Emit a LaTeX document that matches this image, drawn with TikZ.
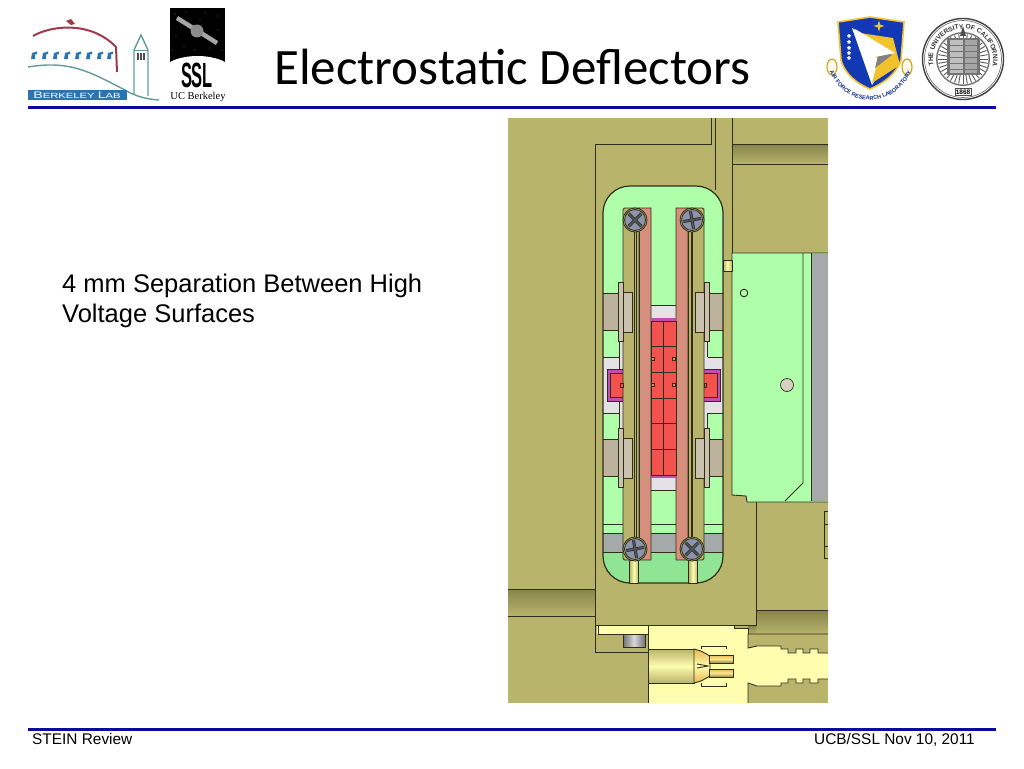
\documentclass[tikz,border=0pt]{standalone}
\usepackage{fontspec}
\setmainfont{Liberation Sans}
\newfontfamily\titlefont{Carlito}
\newfontfamily\seriffont{Liberation Serif}
\usepackage{tikz}
\usetikzlibrary{positioning,calc,decorations.text,shapes.geometric}
\definecolor{olivebody}{HTML}{B8B46C}
\definecolor{olivedark}{HTML}{86844A}
\definecolor{edgeline}{HTML}{2E2E1A}
\definecolor{pale}{HTML}{AFFFAA}
\definecolor{palelow}{HTML}{90E594}
\definecolor{tan}{HTML}{BDB29B}
\definecolor{salmon}{HTML}{D68F7C}
\definecolor{hotred}{HTML}{F4524F}
\definecolor{violet}{HTML}{C050B0}
\definecolor{silver}{HTML}{A6A9AA}
\definecolor{whitish}{HTML}{E4E2E6}
\definecolor{cream}{HTML}{FFFDAE}
\definecolor{gold}{HTML}{E8B84E}
\definecolor{screwgrey}{HTML}{8C93AC}
\definecolor{rulebar}{HTML}{0A0AA0}
\definecolor{labred}{HTML}{A03A4A}
\definecolor{labteal}{HTML}{5F9C96}
\definecolor{labblue}{HTML}{2F73AE}
\definecolor{afblue}{HTML}{1238B4}
\definecolor{afgold}{HTML}{F2C22C}
\begin{document}
\begin{tikzpicture}[x=1pt,y=-1pt,
    part/.style={draw=edgeline,line width=0.9pt},
    band/.style={top color=olivedark,bottom color=olivebody},
    rulebar line/.style={draw=rulebar,line width=3pt},
    footer/.style={font=\fontsize{15.4}{17}\selectfont,inner sep=0pt}]
    \useasboundingbox (0,0) rectangle (1024,768);
    \node[anchor=base west,inner sep=0pt,font=\titlefont\fontsize{51}{55}\selectfont] (title) at (274,84) {Electrostatic Deflectors};
    \coordinate (ruleTopA) at (28,107.5);
    \coordinate (ruleTopB) at (996,107.5);
    \coordinate (ruleLowA) at (28,729.5);
    \coordinate (ruleLowB) at (996,729.5);
    \draw[rulebar line] (ruleTopA) -- (ruleTopB);
    \draw[rulebar line] (ruleLowA) -- (ruleLowB);
    \node[anchor=base west,footer] (review) at (32,744) {STEIN Review};
    \node[anchor=base east,footer] (date) at (975,744) {UCB/SSL Nov 10, 2011};
    \node[anchor=north west,inner sep=0pt,align=left,font=\fontsize{25.5}{30}\selectfont] (note) at (62,274) {4 mm Separation Between High\\Voltage Surfaces};
    % berkeley lab logo
    \draw[labred,line width=2pt] (33,36) .. controls (50,26) and (90,20) .. (116,47) -- (117,72);
    \fill[labred] (66,21) -- (71,19) -- (75,24) -- (71,25) -- cycle;
    \foreach \wx in {32,43,54,65,76,87,98,108}
        \fill[labblue] (\wx,53) -- (\wx+5,51.5) -- (\wx+5,54) -- (\wx+3,54.5) -- (\wx+3,59) -- (\wx-1,59) -- cycle;
    \draw[labteal,line width=1.4pt] (28,67) .. controls (70,60) and (90,72) .. (125,90) .. controls (135,96) and (145,99) .. (159,100);
    \draw[labteal,line width=1.4pt] (134,94) -- (134,50) -- (141,35) -- (148,50) -- (148,96);
    \draw[labteal,line width=0.8pt] (134,50) -- (148,50);
    \foreach \wx in {138,141,144}
        \draw[black!70,line width=1.2pt] (\wx,53) -- (\wx,60);
    \fill[labblue] (28,90) rectangle (127,100);
    \node[inner sep=0pt,xscale=1.5,text=white,font=\fontsize{9.5}{10}\selectfont] (labname) at (77,95) {B\fontsize{7.5}{8}\selectfont ERKELEY \fontsize{9.5}{10}\selectfont L\fontsize{7.5}{8}\selectfont AB};
    % ssl logo
    \fill[black] (170,8) rectangle (225,62) ;
    \fill[white] (170,62) .. controls (185,54) and (210,54) .. (225,62) -- cycle;
    \foreach \sx/\sy in {175/14,186/12,205/13,218/16,176/36,184/46,210/48,218/30,195/50,172/50,222/50,200/20}
        \fill[white] (\sx,\sy) circle[radius=0.4pt];
    \draw[black!35,line width=4.5pt] (177,18) -- (217,43);
    \fill[black!45] (197,31) circle[radius=6.5pt];
    \node[inner sep=0pt,xscale=0.47,font=\bfseries\fontsize{35}{36}\selectfont] (sslname) at (197,75.5) {SSL};
    \node[inner sep=0pt,font=\seriffont\fontsize{10.5}{11}\selectfont] (ucname) at (198,96.5) {UC Berkeley};
    % air force shield
    \draw[afgold!85!black,line width=1.2pt,fill=white!90!afgold] (832,67) ellipse[x radius=5pt,y radius=8pt];
    \draw[afgold!85!black,line width=1.2pt,fill=white!90!afgold] (907,67) ellipse[x radius=5pt,y radius=8pt];
    \draw[afgold,line width=1.6pt,fill=afblue] (838,22) -- (870,17) -- (904,22) -- (901,60) .. controls (896,75) and (882,84) .. (870,89) .. controls (858,84) and (845,75) .. (841,60) -- cycle;
    \fill[white] (852,28) -- (892,53) -- (872,85) -- cycle;
    \fill[afgold] (860,33) -- (893,38) -- (900,65) -- (872,83) -- (878,60) -- cycle;
    \fill[black!50] (863,40) -- (892,55) -- (875,68) -- (878,56) -- cycle;
    \fill[white] (855,29) -- (895,53) -- (875,57) -- cycle;
    \node[star,star points=4,star point ratio=3,fill=afgold,inner sep=1.3pt] (afstar) at (879,26) {};
    \foreach \sy in {36,42,48,53,58}
        \node[star,fill=white,inner sep=1pt] (afs\sy) at (849,\sy) {};
    \path[decorate,decoration={text along path,text align=center,text color=afblue!80!black,
        text={|\bfseries\fontsize{5.6}{7}\selectfont|AIR FORCE RESEARCH LABORATORY}}]
        (829,70) .. controls (845,110) and (895,110) .. (912,70);
    % university seal
    \draw[black!75,line width=1.4pt,fill=white] (963,59) circle[radius=40.5pt];
    \draw[black!60,line width=0.6pt] (963,59) circle[radius=38.5pt];
    \fill[black!55] (963,59) circle[radius=27pt];
    \fill[white] (963,59) circle[radius=25.5pt];
    \foreach \ang in {0,10,...,350}
        \draw[black!65,line width=0.9pt] (963,59) ++(\ang:15pt) -- ++(\ang:10pt);
    \fill[black!55] (947,38) rectangle (980,75);
    \fill[black!25] (950,40) rectangle (963,73);
    \fill[black!35] (965,40) rectangle (977,73);
    \fill[black!70] (963,26) -- (966,36) -- (960,36) -- cycle;
    \foreach \ly in {45,51,...,73}
        \draw[black!55,line width=0.4pt] (950,\ly) -- (977,\ly);
    \node[inner sep=1pt,fill=white,draw=black!70,line width=0.4pt,font=\bfseries\fontsize{6.5}{7}\selectfont] (sealyear) at (963,92) {1868};
    \path[decorate,decoration={text along path,text align=center,text color=black!80,
        text={|\bfseries\fontsize{6.6}{8}\selectfont|THE UNIVERSITY OF CALIFORNIA}}]
        (963,59) ++(215:30pt) arc[start angle=215,end angle=-35,radius=30pt];
    % deflector drawing
    \fill[olivebody] (508,118) rectangle (828,703);
    \shade[band] (732,144) rectangle (828,164);
    \draw[part] (732,144) -- (828,144) (732,164) -- (828,164);
    \shade[band] (508,589) rectangle (595,616);
    \draw[part] (508,589) -- (595,589) (508,616) -- (595,616);
    \shade[band] (756,610) rectangle (828,634);
    \shade[band] (748,626) rectangle (756,634);
    \draw[part] (756,610) -- (828,610);
    \draw[part] (595,625) -- (595,144) -- (711,144) -- (711,118);
    \draw[part] (715,118) -- (715,190);
    \draw[part] (732,118) -- (732,253);
    \draw[part] (756,502) -- (756,625) -- (595,625) -- (595,652) -- (648,652);
    \fill[pale] (732,253) -- (828,253) -- (828,502) -- (747,502) -- (746,496) -- (732,495) -- cycle;
    \draw[part] (828,253) -- (732,253) -- (732,495) -- (746,496) -- (747,502) -- (828,502);
    \fill[silver] (811,254) rectangle (828,501);
    \draw[part] (811,253) -- (811,501);
    \draw[part] (803,253) -- (803,483) -- (785,501);
    \draw[part,fill=pale] (744,293) circle[radius=3.8pt];
    \draw[part,fill=tan!60!white,line width=0.7pt] (787,385) circle[radius=6.5pt];
    \draw[part,left color=olivebody,right color=olivebody,middle color=cream] (723,260) rectangle (732,271);
    \draw[part] (824,558) -- (824,511) -- (828,511) (824,524) -- (828,524) (824,546) -- (828,546) (824,558) -- (828,558);
    % pocket
    \begin{scope}
        \clip[rounded corners=27pt] (603,186) rectangle (723,583);
        \fill[pale] (603,186) rectangle (723,583);
        \fill[palelow] (603,552) rectangle (723,583);
        \draw[part,fill=silver] (596,533) rectangle (730,552);
        \draw[part] (596,524) -- (730,524);
        \draw[part,fill=whitish] (650,305) rectangle (677,330);
        \draw[part,fill=whitish] (650,470) rectangle (677,490);
        \foreach \flip in {1,-1} {
            \begin{scope}[xshift=663.5pt,xscale=\flip]
                \draw[part,fill=tan] (38,293) rectangle (66,330);
                \draw[part,fill=tan] (38,439) rectangle (66,476);
                \draw[part,fill=whitish] (44,357) -- (66,357) -- (66,413) -- (44,413) -- cycle;
                \fill[whitish] (38,342) rectangle (44,428);
                \draw[part] (44,342) -- (44,357);
                \draw[part] (44,413) -- (44,428);
            \end{scope}
        }
    \end{scope}
    \draw[draw=edgeline,line width=1.2pt,rounded corners=27pt] (603,186) rectangle (723,583);
    \foreach \flip in {1,-1} {
        \begin{scope}[xshift=663.5pt,xscale=\flip]
            % red side block
            \draw[part,fill=violet] (36,369) rectangle (56.5,401);
            \draw[part,fill=hotred] (36,373) rectangle (53.5,397);
            % bars
            \draw[part,fill=olivebody,rounded corners=1.5pt] (24,560) -- (40.5,560) -- (40.5,208) -- (24,208);
            \draw[part] (27.5,226) -- (27.5,540);
            \draw[part] (29,226) -- (29,540);
            \draw[part,fill=salmon] (12.5,560) -- (24.5,560) -- (24.5,232) -- (27,226) -- (24,208) -- (12.5,208) -- cycle;
            \draw[part] (24.5,232) -- (24.5,540);
            \draw[edgeline,line width=0.8pt,fill=hotred] (40.5,383.5) rectangle (43,387.5);
            % clips
            \draw[part,fill=tan!80!white] (31.5,292) rectangle (40.5,332);
            \draw[part,fill=tan!80!white] (31.5,438) rectangle (40.5,478);
            \draw[part,fill=tan!80!white,line width=0.6pt] (40.5,282) rectangle (45.5,341);
            \draw[part,fill=tan!80!white,line width=0.6pt] (40.5,428) rectangle (45.5,487);
            % pins below
            \draw[part,left color=olivebody,right color=olivebody,middle color=cream] (25,560) rectangle (34,583);
        \end{scope}
    }
    % red stack
    \fill[violet] (651,318) rectangle (676,322);
    \fill[violet] (651,474) rectangle (676,478);
    \draw[part,fill=hotred] (651,321) rectangle (676,475);
    \draw[part] (663.5,321) -- (663.5,475);
    \foreach \ry in {346,372,398,423,449}
        \draw[part] (651,\ry) -- (676,\ry);
    \foreach \px/\py in {653/359,674/359,653/385,674/385}
        \draw[edgeline,line width=0.8pt,fill=salmon] (\px-1.5,\py-1.5) rectangle (\px+1.5,\py+1.5);
    % screws
    \foreach \sx/\sy/\ang in {635/220/45,692/220/10,635/549/10,692/549/45} {
        \draw[edgeline,fill=olivebody,line width=0.8pt] (\sx,\sy) circle[radius=12pt];
        \draw[edgeline,fill=screwgrey,line width=0.8pt] (\sx,\sy) circle[radius=10.5pt];
        \draw[edgeline,line width=3pt] (\sx,\sy) ++(\ang:9pt) -- ++(\ang+180:18pt);
        \draw[edgeline,line width=3pt] (\sx,\sy) ++(\ang+90:9pt) -- ++(\ang+270:18pt);
        \draw[screwgrey!60!black,line width=1.4pt] (\sx,\sy) ++(\ang:9pt) -- ++(\ang+180:18pt);
        \draw[screwgrey!60!black,line width=1.4pt] (\sx,\sy) ++(\ang+90:9pt) -- ++(\ang+270:18pt);
    }
    % connector
    \fill[cream] (597,626) rectangle (648,634);
    \draw[part] (598,626) -- (598,634) -- (648,634);
    \fill[cream] (648,626) rectangle (734,703);
    \draw[part] (648,626) -- (648,703);
    \draw[part] (734,626) -- (734,648) (734,683) -- (734,703);
    \fill[cream] (734,628) rectangle (748,703);
    \fill[cream] (748,683) -- (757,686) -- (781,686) -- (781,683) -- (788,683) -- (788,679) -- (796,679) -- (796,683) -- (803,683) -- (803,679) -- (810,679) -- (810,683) -- (818,683) -- (818,679) -- (828,679) -- (828,653) -- (818,653) -- (818,649) -- (810,649) -- (810,653) -- (803,653) -- (803,649) -- (796,649) -- (796,653) -- (788,653) -- (788,649) -- (781,649) -- (781,646) -- (757,646) -- (748,648) -- cycle;
    \draw[part] (748,703) -- (748,683) -- (757,686) -- (781,686) -- (781,683) -- (788,683) -- (788,679) -- (796,679) -- (796,683) -- (803,683) -- (803,679) -- (810,679) -- (810,683) -- (818,683) -- (818,679) -- (828,679);
    \draw[part] (828,653) -- (818,653) -- (818,649) -- (810,649) -- (810,653) -- (803,653) -- (803,649) -- (796,649) -- (796,653) -- (788,653) -- (788,649) -- (781,649) -- (781,646) -- (757,646) -- (748,648) -- (748,634) -- (828,634);
    \draw[part] (734,628) -- (748,628) -- (748,634);
    \draw[part,top color=olivebody,bottom color=olivebody,middle color=cream] (648,649) rectangle (694,683);
    \draw[part,top color=gold,bottom color=gold,middle color=cream] (694,649) -- (701,651) -- (710,656) -- (710,676) -- (701,681) -- (694,683) -- cycle;
    \draw[part,top color=gold,bottom color=gold!70!black,middle color=cream!70!gold] (709,655) rectangle (733,663);
    \draw[part,top color=gold,bottom color=gold!70!black,middle color=cream!70!gold] (709,669) rectangle (733,677);
    \draw[part,fill=cream] (697,664) -- (708,666) -- (697,668);
    \draw[part,fill=cream] (701,649) -- (701,646) -- (726,646) -- (726,649);
    \draw[part,fill=cream] (701,683) -- (701,686) -- (726,686) -- (726,683);
    \draw[part,left color=black!55,right color=black!55,middle color=white!85!black] (623,634) rectangle (645,647);
\end{tikzpicture}
\end{document}
